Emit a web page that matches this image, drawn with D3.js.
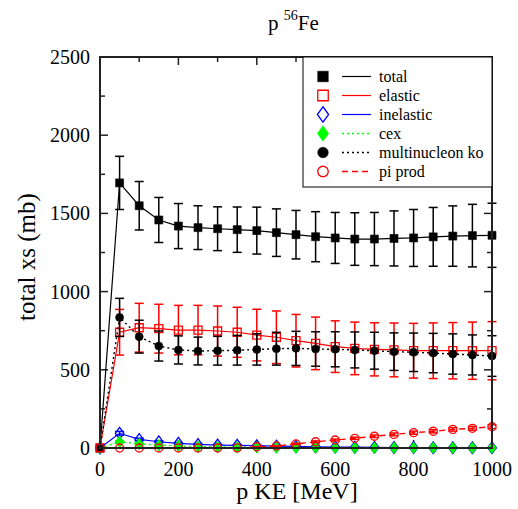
<!DOCTYPE html>
<html>
<head><meta charset="utf-8"><script src="https://cdn.jsdelivr.net/npm/d3@7"></script></head>
<body style="margin:0">
<svg id="s" width="518" height="509" font-family="Times New Roman"></svg>
<script>
// Proton kinetic energy grid (MeV)
const energy = [0, 50, 100, 150, 200, 250, 300, 350, 400, 450, 500, 550, 600, 650, 700, 750, 800, 850, 900, 950, 1000];

// Cross sections (mb) and their uncertainties
const total      = [0, 1695, 1549, 1458, 1419, 1409, 1402, 1396, 1390, 1377, 1364, 1351, 1343, 1336, 1336, 1340, 1343, 1350, 1355, 1358, 1360];
const totalErr   = [0, 170, 155, 144, 144, 140, 140, 145, 150, 152, 155, 160, 163, 168, 170, 176, 182, 188, 193, 200, 205];
const elastic    = [0, 740, 769, 763, 754, 754, 748, 740, 722, 708, 686, 669, 648, 637, 631, 627, 622, 622, 622, 622, 622];
const elasticErr = [0, 146, 156, 156, 158, 158, 160, 160, 165, 168, 168, 168, 165, 168, 170, 172, 175, 178, 180, 183, 186];
const inelastic  = [0, 94, 55, 40, 30, 23, 19, 17, 15, 12, 10, 8, 6, 5, 4, 3, 3, 2, 2, 2, 2];
const inelErr    = [0, 12, 8, 6, 5, 4, 3, 3, 3, 2, 2, 2, 1, 1, 1, 1, 1, 1, 1, 1, 1];
const cex        = [0, 40, 27, 18, 13, 9, 7, 5, 4, 3, 2, 2, 1, 1, 1, 1, 1, 1, 1, 1, 1];
const cexErr     = [0, 6, 4, 3, 2, 2, 1, 1, 1, 1, 0, 0, 0, 0, 0, 0, 0, 0, 0, 0, 0];
const multiKO    = [0, 835, 712, 652, 627, 620, 622, 625, 630, 635, 637, 633, 631, 627, 622, 616, 612, 607, 601, 595, 588];
const multiKOErr = [0, 122, 105, 96, 90, 89, 92, 95, 100, 105, 109, 110, 112, 115, 118, 120, 123, 126, 129, 128, 130];
const piProd     = [0, 0, 0, 0, 0, 0, 0, 1, 8, 13, 26, 40, 51, 62, 75, 87, 98, 107, 119, 126, 136];
const piProdErr  = [0, 0, 0, 0, 0, 0, 0, 0, 1, 2, 4, 5, 6, 7, 8, 9, 10, 10, 11, 12, 12];

const xTickLabels = [0, 200, 400, 600, 800, 1000];
const yTickLabels = [0, 500, 1000, 1500, 2000, 2500];

const FONT = "'Times New Roman'";
const svg = d3.select("#s");
const L = 100, R = 492, T = 57, B = 448;

const x = d3.scaleLinear().domain([0, 1000]).range([L, R]);
const y = d3.scaleLinear().domain([0, 2500]).range([B, T]);

const series = [
  { name: "total", v: total, e: totalErr, color: "#000", sym: "square", fill: "#000", dash: null },
  { name: "elastic", v: elastic, e: elasticErr, color: "#ff0000", sym: "square", fill: "none", dash: null },
  { name: "inelastic", v: inelastic, e: inelErr, color: "#0000ff", sym: "diamond", fill: "none", dash: null },
  { name: "cex", v: cex, e: cexErr, color: "#00ff00", sym: "diamond", fill: "#00ff00", dash: "2,3" },
  { name: "multinucleon ko", v: multiKO, e: multiKOErr, color: "#000", sym: "circle", fill: "#000", dash: "2,3" },
  { name: "pi prod", v: piProd, e: piProdErr, color: "#ff0000", sym: "circle", fill: "none", dash: "6,4" }
];

// Ticks: inward, on all four sides
const ticks = svg.append("g").attr("stroke", "#222").attr("stroke-width", 1.5);
const xMinor = [100, 300, 500, 700, 900];
const yMinor = [250, 750, 1250, 1750, 2250];
xTickLabels.forEach(t => {
  ticks.append("line").attr("x1", x(t)).attr("x2", x(t)).attr("y1", B).attr("y2", B - 8);
  ticks.append("line").attr("x1", x(t)).attr("x2", x(t)).attr("y1", T).attr("y2", T + 8);
});
xMinor.forEach(t => {
  ticks.append("line").attr("x1", x(t)).attr("x2", x(t)).attr("y1", B).attr("y2", B - 5);
  ticks.append("line").attr("x1", x(t)).attr("x2", x(t)).attr("y1", T).attr("y2", T + 5);
});
yTickLabels.forEach(t => {
  ticks.append("line").attr("x1", L).attr("x2", L + 8).attr("y1", y(t)).attr("y2", y(t));
  ticks.append("line").attr("x1", R).attr("x2", R - 8).attr("y1", y(t)).attr("y2", y(t));
});
yMinor.forEach(t => {
  ticks.append("line").attr("x1", L).attr("x2", L + 5).attr("y1", y(t)).attr("y2", y(t));
  ticks.append("line").attr("x1", R).attr("x2", R - 5).attr("y1", y(t)).attr("y2", y(t));
});

// Tick labels
svg.selectAll("text.xt").data(xTickLabels).join("text").attr("class", "xt")
  .attr("x", d => x(d)).attr("y", 476).attr("text-anchor", "middle")
  .attr("font-size", 20).style("font-family", FONT).text(d => d);
svg.selectAll("text.yt").data(yTickLabels).join("text").attr("class", "yt")
  .attr("x", 90).attr("y", d => y(d) + 7).attr("text-anchor", "end")
  .attr("font-size", 20).style("font-family", FONT).text(d => d);

// Data: lines, error bars, symbols
const plot = svg.append("g");
function symbolPath(sym, s) {
  if (sym === "square") return d3.symbol(d3.symbolSquare, s * s)();
  if (sym === "circle") return d3.symbol(d3.symbolCircle, Math.PI * (s / 2) * (s / 2))();
  const h = s * 0.62, w = s * 0.45;
  return `M0,${-h}L${w},0L0,${h}L${-w},0Z`;
}

series.forEach(s => {
  const pts = energy.map((e, i) => ({ e, v: s.v[i], err: s.e[i] }));
  const line = d3.line().x(d => x(d.e)).y(d => y(d.v));
  plot.append("path").datum(pts)
    .attr("d", line).attr("fill", "none")
    .attr("stroke", s.color).attr("stroke-width", s.dash ? 1.4 : 1.2)
    .attr("stroke-dasharray", s.dash);

  const eb = plot.append("g").attr("stroke", s.color).attr("stroke-width", 1.5).attr("fill", "none");
  pts.filter(d => d.err > 0).forEach(d => {
    const cx = x(d.e), y1 = y(d.v + d.err), y2 = y(d.v - d.err);
    eb.append("line").attr("x1", cx).attr("x2", cx).attr("y1", y1).attr("y2", y2);
    eb.append("line").attr("x1", cx - 4.5).attr("x2", cx + 4.5).attr("y1", y1).attr("y2", y1);
    eb.append("line").attr("x1", cx - 4.5).attr("x2", cx + 4.5).attr("y1", y2).attr("y2", y2);
  });

  const size = s.sym === "diamond" ? 9.5 : 8;
  plot.append("g").selectAll("path").data(pts).join("path")
    .attr("transform", d => `translate(${x(d.e)},${y(d.v)})`)
    .attr("d", symbolPath(s.sym, size))
    .attr("fill", s.fill)
    .attr("stroke", s.sym === "diamond" && s.fill !== "none" ? "#00dd00" : s.color)
    .attr("stroke-width", s.fill === "none" ? 1.3 : 0.6);
});

// Frame
svg.append("rect").attr("x", L).attr("y", T).attr("width", R - L).attr("height", B - T)
  .attr("fill", "none").attr("stroke", "#222").attr("stroke-width", 2);

// Legend box
svg.append("rect").attr("x", 303).attr("y", T).attr("width", R - 303).attr("height", 187 - T)
  .attr("fill", "#fff").attr("stroke", "#000").attr("stroke-width", 1);
series.forEach((s, i) => {
  const yy = 76.5 + i * 19;
  svg.append("path").attr("transform", `translate(323,${yy})`)
    .attr("d", symbolPath(s.sym, s.sym === "diamond" ? 12.5 : 10.5))
    .attr("fill", s.fill).attr("stroke", s.color)
    .attr("stroke-width", s.fill === "none" ? 1.3 : 0.6);
  svg.append("line").attr("x1", 342).attr("x2", 371).attr("y1", yy).attr("y2", yy)
    .attr("stroke", s.color).attr("stroke-width", s.dash ? 1.4 : 1.2)
    .attr("stroke-dasharray", s.dash);
});
svg.selectAll("text.lg").data(series).join("text").attr("class", "lg")
  .attr("x", 379).attr("y", (d, i) => 81.5 + i * 19)
  .attr("font-size", 16).style("font-family", FONT).text(d => d.name);

// Title and axis titles
const title = svg.append("text").attr("x", 268).attr("y", 30)
  .attr("font-size", 21).style("font-family", FONT);
title.append("tspan").text("p ");
title.append("tspan").attr("font-size", 14).attr("dy", -10).text("56");
title.append("tspan").attr("dy", 10).text("Fe");

svg.append("text").attr("x", 297).attr("y", 499).attr("text-anchor", "middle")
  .attr("font-size", 24).style("font-family", FONT).text("p KE [MeV]");
svg.append("text").attr("transform", "translate(35,257) rotate(-90)")
  .attr("text-anchor", "middle").attr("font-size", 25)
  .style("font-family", FONT).text("total xs (mb)");
</script>
</body>
</html>
